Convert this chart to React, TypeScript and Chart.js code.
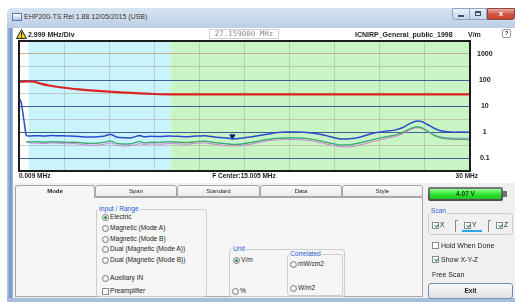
import React, { useEffect, useRef } from "react";
import { Chart, registerables } from "chart.js";

Chart.register(...registerables);

// ---------------- data ----------------
const freqMHz = [
  0.009, 0.15, 0.35, 0.5, 0.8, 1.2, 1.7, 2.2, 2.7, 3.2, 3.7, 4.2, 4.7, 5.2, 5.7, 6.0, 6.2, 6.5, 7.0, 7.5,
  7.8, 8.0, 8.3, 8.8, 9.4, 10.0, 10.6, 11.2, 11.8, 12.4, 13.0, 13.6, 14.2, 14.8, 15.4, 16.0, 16.6, 17.2, 17.8, 18.4,
  19.0, 19.6, 20.2, 20.8, 21.4, 22.0, 22.6, 23.2, 23.8, 24.4, 25.0, 25.5, 26.0, 26.4, 26.8, 27.2, 27.6, 28.0, 28.5, 29.0,
  29.5, 30.0,
];
const traceTotal = [
  20, 14, 2.5, 0.72, 0.7, 0.72, 0.7, 0.74, 0.72, 0.7, 0.69, 0.66, 0.64, 0.65, 0.7, 0.8, 0.78, 0.64, 0.6, 0.6,
  0.68, 0.74, 0.66, 0.68, 0.67, 0.7, 0.68, 0.66, 0.7, 0.72, 0.64, 0.6, 0.55, 0.58, 0.64, 0.74, 0.84, 0.95, 1.0, 1.0,
  0.98, 0.9, 0.78, 0.64, 0.54, 0.55, 0.62, 0.78, 0.95, 1.08, 1.18, 1.45, 2.1, 2.6, 2.5, 1.9, 1.4, 1.15, 1.02, 0.98,
  1.0, 0.98,
];
const traceY = [
  null, null, null, 0.44, 0.42, 0.43, 0.41, 0.43, 0.42, 0.4, 0.41, 0.39, 0.37, 0.38, 0.41, 0.46, 0.44, 0.37, 0.35, 0.36,
  0.41, 0.44, 0.39, 0.41, 0.4, 0.43, 0.41, 0.4, 0.43, 0.45, 0.4, 0.37, 0.34, 0.35, 0.4, 0.46, 0.53, 0.58, 0.6, 0.6,
  0.58, 0.52, 0.44, 0.37, 0.32, 0.33, 0.38, 0.46, 0.56, 0.66, 0.76, 0.95, 1.35, 1.6, 1.5, 1.1, 0.8, 0.66, 0.6, 0.58,
  0.58, 0.57,
];
const traceZ = [
  null, null, null, 0.4, 0.38, 0.37, 0.36, 0.38, 0.37, 0.35, 0.36, 0.33, 0.31, 0.31, 0.34, 0.38, 0.37, 0.31, 0.29, 0.3,
  0.33, 0.36, 0.33, 0.35, 0.34, 0.36, 0.35, 0.34, 0.37, 0.38, 0.34, 0.31, 0.29, 0.3, 0.34, 0.4, 0.46, 0.5, 0.52, 0.51,
  0.49, 0.44, 0.37, 0.31, 0.27, 0.27, 0.31, 0.38, 0.47, 0.56, 0.66, 0.84, 1.2, 1.45, 1.38, 1.02, 0.74, 0.62, 0.57, 0.55,
  0.55, 0.54,
];
const traceX = [
  null, null, null, 0.42, 0.41, 0.42, 0.4, 0.42, 0.41, 0.4, 0.4, 0.38, 0.36, 0.37, 0.4, 0.45, 0.43, 0.36, 0.34, 0.35,
  0.4, 0.43, 0.38, 0.4, 0.4, 0.42, 0.4, 0.39, 0.42, 0.44, 0.39, 0.36, 0.33, 0.34, 0.39, 0.45, 0.52, 0.57, 0.59, 0.59,
  0.57, 0.51, 0.43, 0.36, 0.31, 0.32, 0.37, 0.45, 0.55, 0.65, 0.75, 0.94, 1.32, 1.55, 1.45, 1.05, 0.74, 0.6, 0.54, 0.52,
  0.51, 0.5,
];
const limitFreq = [0.009, 1.0, 1.5, 2.0, 3.0, 4.0, 5.0, 6.0, 7.0, 8.0, 9.0, 10.0, 30.0];
const limitVm = [87, 87, 71, 61.5, 50.2, 43.5, 38.9, 35.5, 32.9, 30.8, 29, 28, 28];
const markerFreq = [14.2];
const markerVm = [0.68];
const bandEdgesMHz = [0.009, 0.65, 10.1, 30];
const xMinMHz = 0.009;
const xMaxMHz = 30;
const xDivisions = 10;
const yGridExponents = [-1.5, -1, -0.5, 0, 0.5, 1, 1.5, 2, 2.5, 3, 3.5];
const yLabelExponents = [-1, 0, 1, 2, 3];
const yLabels = ["0.1", "1", "10", "100", "1000"];
const tabNames = ["Mode", "Span", "Standard", "Data", "Style"];
const inputRangeOptions = [
  "Electric",
  "Magnetic (Mode A)",
  "Magnetic (Mode B)",
  "Dual (Magnetic (Mode A))",
  "Dual (Magnetic (Mode B))",
];

// ---------------- styles ----------------
const FONT = '"Liberation Sans", Arial, sans-serif';
const bandColors = ["#ffffff", "#c9f4fb", "#c9f5c5"];
const UI = 6.6;

function Txt(props: any) {
  const { x, y, size = UI, bold = false, color = "#1e1e1e", style = {}, children } = props;
  return (
    <div
      style={{
        position: "absolute",
        left: x,
        top: y,
        fontSize: size,
        fontWeight: bold ? 700 : 400,
        color,
        fontFamily: FONT,
        lineHeight: 1,
        whiteSpace: "nowrap",
        ...style,
      }}
    >
      {children}
    </div>
  );
}

function Radio({ x, y, checked }: any) {
  return (
    <div
      style={{
        position: "absolute",
        left: x,
        top: y - 3,
        width: 5,
        height: 5,
        borderRadius: "50%",
        border: "1px solid #7a7a7a",
        background: "radial-gradient(circle at 40% 35%, #ffffff, #dcdcdc)",
      }}
    >
      {checked && (
        <div
          style={{
            position: "absolute",
            left: 1,
            top: 1,
            width: 3,
            height: 3,
            borderRadius: "50%",
            background: "#3b8a4a",
          }}
        />
      )}
    </div>
  );
}

function Check({ x, y, checked }: any) {
  return (
    <div
      style={{
        position: "absolute",
        left: x,
        top: y - 3,
        width: 5,
        height: 5,
        border: "1px solid #8a8a8a",
        background: "#ffffff",
      }}
    >
      {checked && (
        <div
          style={{
            position: "absolute",
            left: 1.5,
            top: -0.5,
            width: 1.6,
            height: 3.4,
            borderRight: "1.3px solid #2f8f3c",
            borderBottom: "1.3px solid #2f8f3c",
            transform: "rotate(40deg)",
          }}
        />
      )}
    </div>
  );
}

function Group({ x, y, w, h, title, tx }: any) {
  return (
    <>
      <div
        style={{
          position: "absolute",
          left: x,
          top: y,
          width: w,
          height: h,
          border: "1px solid #cdcdcd",
          borderRadius: 3,
          boxSizing: "border-box",
        }}
      />
      <Txt x={tx} y={y - 3} color="#2a5cd2" style={{ background: "#f6f6f6", padding: "0 1px" }}>
        {title}
      </Txt>
    </>
  );
}

function SpectrumChart() {
  const ref = useRef<HTMLCanvasElement>(null);
  useEffect(() => {
    const canvas = ref.current;
    if (!canvas) return;
    const pts = (xs: number[], ys: (number | null)[]) => xs.map((f, i) => ({ x: f, y: ys[i] }));
    const gridColorFor = (v: number) => {
      const e = Math.round(Math.log10(v) * 2) / 2;
      if (e <= yGridExponents[0] || e >= yGridExponents[yGridExponents.length - 1]) return "rgba(0,0,0,0)";
      if (e === 3) return "rgba(196,160,130,0.85)";
      if (Number.isInteger(e)) return "#3f5f97";
      return "rgba(175,145,145,0.45)";
    };
    const framePlugin = {
      id: "frame",
      beforeDraw(chart: any) {
        const { ctx, chartArea: a, scales } = chart;
        const xs = scales.x;
        ctx.save();
        for (let i = 0; i < bandColors.length; i++) {
          const x0 = Math.max(a.left, xs.getPixelForValue(bandEdgesMHz[i]));
          const x1 = Math.min(a.right, xs.getPixelForValue(bandEdgesMHz[i + 1]));
          ctx.fillStyle = bandColors[i];
          ctx.fillRect(x0, a.top, x1 - x0, a.bottom - a.top);
        }
        ctx.restore();
      },
      afterDraw(chart: any) {
        const { ctx, chartArea: a } = chart;
        ctx.save();
        ctx.strokeStyle = "#1c1c1c";
        ctx.lineWidth = 2;
        ctx.strokeRect(a.left, a.top, a.right - a.left, a.bottom - a.top);
        ctx.restore();
      },
    };
    const chart = new Chart(canvas, {
      type: "line",
      data: {
        datasets: [
          { label: "X", data: pts(freqMHz, traceX), borderColor: "#3f9c58", borderWidth: 1 },
          { label: "Z", data: pts(freqMHz, traceZ), borderColor: "#cf7cd8", borderWidth: 1 },
          { label: "Y", data: pts(freqMHz, traceY), borderColor: "#36ccb4", borderWidth: 1 },
          { label: "Total", data: pts(freqMHz, traceTotal), borderColor: "#2b4bcc", borderWidth: 1.5 },
          { label: "Limit", data: pts(limitFreq, limitVm), borderColor: "#d92424", borderWidth: 2.2 },
          {
            label: "Marker",
            data: pts(markerFreq, markerVm),
            showLine: false,
            pointStyle: "triangle",
            rotation: 180,
            pointRadius: 3,
            backgroundColor: "#16206c",
            borderColor: "#16206c",
          } as any,
        ],
      },
      options: {
        animation: false,
        responsive: false,
        devicePixelRatio: 1,
        layout: { padding: { left: 6, top: 13, right: 0, bottom: 0 } },
        elements: { point: { radius: 0 }, line: { tension: 0.15 } },
        plugins: { legend: { display: false }, tooltip: { enabled: false } },
        scales: {
          x: {
            type: "linear",
            min: xMinMHz,
            max: xMaxMHz,
            afterBuildTicks: (s: any) => {
              s.ticks = Array.from({ length: xDivisions + 1 }, (_, k) => ({
                value: xMinMHz + (k * (xMaxMHz - xMinMHz)) / xDivisions,
              }));
            },
            afterFit: (s: any) => {
              s.height = 14;
            },
            border: { display: false },
            grid: {
              drawTicks: false,
              color: (c: any) =>
                c.index === 0 || c.index === xDivisions ? "rgba(0,0,0,0)" : "rgba(110,125,130,0.28)",
            },
            ticks: { display: false },
          },
          y: {
            type: "logarithmic",
            position: "right",
            min: Math.pow(10, yGridExponents[0]),
            max: Math.pow(10, yGridExponents[yGridExponents.length - 1]),
            afterBuildTicks: (s: any) => {
              s.ticks = yGridExponents.map((e) => ({ value: Math.pow(10, e) }));
            },
            afterFit: (s: any) => {
              s.width = 42;
            },
            border: { display: false },
            grid: { drawTicks: false, color: (c: any) => gridColorFor(c.tick.value) },
            ticks: {
              autoSkip: false,
              padding: 7,
              crossAlign: "center",
              color: "#1e1e1e",
              font: { family: FONT, size: 7, weight: "bold" },
              callback: (v: any) => {
                const e = Math.log10(Number(v));
                const i = yLabelExponents.findIndex((le) => Math.abs(le - e) < 1e-6);
                return i >= 0 ? yLabels[i] : "";
              },
            },
          },
        },
      } as any,
      plugins: [framePlugin],
    });
    return () => chart.destroy();
  }, []);
  return (
    <canvas
      ref={ref}
      width={499}
      height={157}
      style={{ position: "absolute", left: 13, top: 28, width: 499, height: 157 }}
    />
  );
}

export default function App() {
  const tabEdges = [15, 95, 177, 260, 342, 423];
  const rangeY = [217, 228, 239, 249, 260];
  return (
    <div
      style={{
        position: "fixed",
        left: 0,
        top: 0,
        width: 515,
        height: 302,
        overflow: "hidden",
        background: "#ffffff",
        fontFamily: FONT,
      }}
    >
      {/* title bar */}
      <div
        style={{
          position: "absolute",
          left: 7,
          top: 8,
          width: 510,
          height: 20,
          background: "linear-gradient(#d6e3f1, #bccee5)",
          borderTopLeftRadius: 5,
        }}
      />
      <div
        style={{
          position: "absolute",
          left: 12,
          top: 13,
          width: 8,
          height: 6,
          border: "1px solid #5a7aa8",
          background: "linear-gradient(#ffffff, #a9c3e8)",
        }}
      />
      <Txt x={24} y={13} size={7} color="#2a2a2a" style={{ textShadow: "0 0 3px #ffffff" }}>
        EHP200-TS Rel 1.88 12/05/2015 (USB)
      </Txt>
      <div
        style={{
          position: "absolute",
          left: 452,
          top: 8,
          width: 18,
          height: 12,
          boxSizing: "border-box",
          border: "1px solid #8ea4c2",
          borderBottomLeftRadius: 3,
          background: "linear-gradient(#eaf1fa, #c3d5ec)",
        }}
      >
        <div style={{ position: "absolute", left: 5, top: 6, width: 6, height: 2, background: "#3d4f6a" }} />
      </div>
      <div
        style={{
          position: "absolute",
          left: 470,
          top: 8,
          width: 17,
          height: 12,
          boxSizing: "border-box",
          border: "1px solid #8ea4c2",
          borderLeft: "none",
          background: "linear-gradient(#eaf1fa, #c3d5ec)",
        }}
      >
        <div
          style={{
            position: "absolute",
            left: 5,
            top: 2,
            width: 6,
            height: 5,
            border: "1px solid #3d4f6a",
            borderTopWidth: 2,
            boxSizing: "border-box",
          }}
        />
      </div>
      <div
        style={{
          position: "absolute",
          left: 487,
          top: 8,
          width: 28,
          height: 12,
          boxSizing: "border-box",
          border: "1px solid #8a4a44",
          borderBottomRightRadius: 3,
          background: "linear-gradient(#eaa89c, #d0523f 55%, #c9452f)",
          color: "#ffffff",
          fontSize: 8,
          fontWeight: 700,
          lineHeight: "10px",
          textAlign: "center",
          fontFamily: FONT,
        }}
      >
        x
      </div>

      {/* window frames */}
      <div
        style={{
          position: "absolute",
          left: 7,
          top: 28,
          width: 6,
          height: 274,
          background: "linear-gradient(to right, #b9cce6, #6f93c9 55%, #a3bcdd)",
        }}
      />
      <div style={{ position: "absolute", left: 7, top: 298, width: 510, height: 4, background: "#a9bedb" }} />

      {/* content backgrounds */}
      <div style={{ position: "absolute", left: 13, top: 28, width: 502, height: 155, background: "#ffffff" }} />
      <div style={{ position: "absolute", left: 13, top: 183, width: 502, height: 115, background: "#f0f0f0" }} />

      <SpectrumChart />

      {/* header row */}
      <svg style={{ position: "absolute", left: 16, top: 29 }} width={11} height={10} viewBox="0 0 11 10">
        <polygon points="5.5,0.6 10.4,9.4 0.6,9.4" fill="#f5d21c" stroke="#1a1a1a" strokeWidth={1} />
        <rect x={5} y={3.2} width={1.1} height={3.4} fill="#1a1a1a" />
        <rect x={5} y={7.3} width={1.1} height={1.1} fill="#1a1a1a" />
      </svg>
      <Txt x={28} y={30.5} size={7} bold>
        2.999 MHz/Div
      </Txt>
      <div
        style={{
          position: "absolute",
          left: 209,
          top: 29,
          width: 70,
          height: 10,
          boxSizing: "border-box",
          border: "1px solid #d2d2d2",
          fontFamily: '"DejaVu Sans Mono", monospace',
          fontSize: 7.5,
          lineHeight: "8px",
          color: "#8a8a8a",
          textAlign: "center",
        }}
      >
        27.159000 MHz
      </div>
      <Txt x={355} y={30.5} size={7} bold>
        ICNIRP_General_public_1998
      </Txt>
      <Txt x={468} y={30.5} size={7} bold>
        V/m
      </Txt>
      <div
        style={{
          position: "absolute",
          left: 502,
          top: 29,
          width: 9,
          height: 9,
          boxSizing: "border-box",
          border: "1px solid #9a9a9a",
          borderRadius: 2,
          fontSize: 6,
          fontWeight: 700,
          lineHeight: "7px",
          textAlign: "center",
          fontFamily: FONT,
          color: "#333",
        }}
      >
        ?
      </div>

      {/* frequency axis labels */}
      <Txt x={19} y={173} size={6.5} bold>
        0.009 MHz
      </Txt>
      <Txt x={194} y={173} size={6.5} bold style={{ width: 100, textAlign: "center" }}>
        F Center:15.005 MHz
      </Txt>
      <Txt x={428} y={173} size={6.5} bold style={{ width: 50, textAlign: "right" }}>
        30 MHz
      </Txt>

      {/* tab panel */}
      <div
        style={{
          position: "absolute",
          left: 15,
          top: 197,
          width: 408,
          height: 100,
          boxSizing: "border-box",
          border: "1px solid #a8a8a8",
          background: "#f6f6f6",
        }}
      />
      {tabNames.map((name, i) => {
        const sel = i === 0;
        return (
          <div
            key={name}
            style={{
              position: "absolute",
              left: tabEdges[i],
              top: 185,
              width: tabEdges[i + 1] - tabEdges[i],
              height: sel ? 13 : 12,
              boxSizing: "border-box",
              border: "1px solid #a8a8a8",
              borderBottom: sel ? "none" : "1px solid #a8a8a8",
              borderRadius: "3px 3px 0 0",
              background: sel ? "#f6f6f6" : "linear-gradient(#fcfcfc, #ebebeb)",
              fontFamily: FONT,
              fontSize: 6,
              fontWeight: sel ? 700 : 400,
              lineHeight: "10px",
              textAlign: "center",
              color: "#1e1e1e",
            }}
          >
            {name}
          </div>
        );
      })}

      {/* input / range */}
      <Group x={96} y={209} w={111} h={88} title="Input / Range" tx={98} />
      {inputRangeOptions.map((label, i) => (
        <React.Fragment key={label}>
          <Radio x={102} y={rangeY[i]} checked={i === 0} />
          <Txt x={110} y={rangeY[i] - 3}>{label}</Txt>
        </React.Fragment>
      ))}
      <Radio x={102} y={278} checked={false} />
      <Txt x={110} y={275}>Auxiliary IN</Txt>
      <Check x={102} y={291} checked={false} />
      <Txt x={110} y={288}>Preamplifier</Txt>

      {/* unit */}
      <Group x={229} y={249} w={116} h={48} title="Unit" tx={232} />
      <Radio x={233} y={260} checked />
      <Txt x={241} y={257}>V/m</Txt>
      <Radio x={232} y={291} checked={false} />
      <Txt x={240} y={288}>%</Txt>
      <Group x={287} y={254} w={56} h={42} title="Correlated" tx={289} />
      <Radio x={290} y={264} checked={false} />
      <Txt x={298} y={261}>mW/cm2</Txt>
      <Radio x={290} y={288} checked={false} />
      <Txt x={298} y={285}>W/m2</Txt>

      {/* battery */}
      <div
        style={{
          position: "absolute",
          left: 428,
          top: 187,
          width: 75,
          height: 14,
          borderRadius: 2,
          background: "linear-gradient(#7a7a7a, #4d4d4d)",
        }}
      />
      <div
        style={{
          position: "absolute",
          left: 503,
          top: 191,
          width: 4,
          height: 6,
          background: "#6e6e6e",
        }}
      />
      <div
        style={{
          position: "absolute",
          left: 430,
          top: 189,
          width: 71,
          height: 10,
          background: "linear-gradient(#8cff8c, #35e635 50%, #1cc41c)",
          fontFamily: FONT,
          fontSize: 6.5,
          fontWeight: 700,
          lineHeight: "10px",
          textAlign: "center",
          color: "#123812",
        }}
      >
        4.07 V
      </div>

      {/* scan */}
      <div
        style={{
          position: "absolute",
          left: 428,
          top: 213,
          width: 85,
          height: 22,
          boxSizing: "border-box",
          border: "1px solid #cdcdcd",
          borderRadius: 3,
        }}
      />
      <Txt x={430} y={208} color="#2a5cd2" style={{ background: "#f0f0f0", padding: "0 1px" }}>
        Scan
      </Txt>
      <Check x={432} y={225} checked />
      <Txt x={440} y={222}>X</Txt>
      <div
        style={{
          position: "absolute",
          left: 455,
          top: 220,
          width: 2,
          height: 11,
          borderLeft: "1px solid #8a8a8a",
          borderTop: "1px solid #8a8a8a",
        }}
      />
      <Check x={464} y={225} checked />
      <Txt x={472} y={222}>Y</Txt>
      <div style={{ position: "absolute", left: 462, top: 230, width: 20, height: 2, background: "#2aa6e6" }} />
      <div
        style={{
          position: "absolute",
          left: 488,
          top: 220,
          width: 2,
          height: 11,
          borderLeft: "1px solid #8a8a8a",
          borderTop: "1px solid #8a8a8a",
        }}
      />
      <Check x={496} y={225} checked />
      <Txt x={504} y={222}>Z</Txt>

      <Check x={432} y={245} checked={false} />
      <Txt x={441} y={242} size={7}>Hold When Done</Txt>
      <Check x={432} y={259} checked />
      <Txt x={441} y={256} size={7}>Show X-Y-Z</Txt>
      <Txt x={432} y={271} size={7}>Free Scan</Txt>

      <div
        style={{
          position: "absolute",
          left: 428,
          top: 283,
          width: 85,
          height: 16,
          boxSizing: "border-box",
          border: "1px solid #6f8fb5",
          borderRadius: 3,
          background: "linear-gradient(#fbfbfb, #e0e0e0)",
          fontFamily: FONT,
          fontSize: 6.5,
          fontWeight: 700,
          lineHeight: "14px",
          textAlign: "center",
          color: "#1e1e1e",
        }}
      >
        Exit
      </div>
    </div>
  );
}
